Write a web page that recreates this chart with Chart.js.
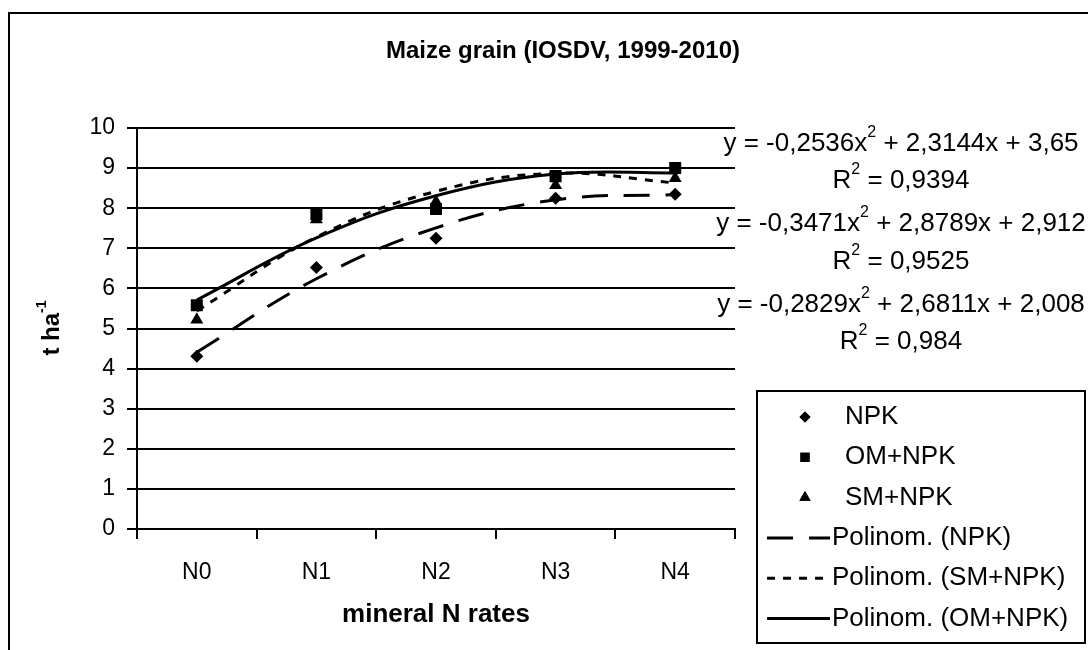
<!DOCTYPE html>
<html><head><meta charset="utf-8">
<script src="https://cdn.jsdelivr.net/npm/chart.js@4/dist/chart.umd.min.js"></script>
<style>html,body{margin:0;padding:0;background:#fff}#wrap{width:1088px;height:650px;position:relative}</style>
</head><body><div id="wrap"><canvas id="c" width="1088" height="650"></canvas></div>
<script>
// ---- data ----
const categories = ['N0', 'N1', 'N2', 'N3', 'N4'];
const npk    = [4.31, 6.52, 7.25, 8.25, 8.35];
const omNpk  = [5.58, 7.85, 7.98, 8.80, 9.00];
const smNpk  = [5.22, 7.72, 8.16, 8.57, 8.75];
// trend-line heights read at each category
const trendNpk = [4.41, 6.24, 7.51, 8.21, 8.34];
const trendSm  = [5.44, 7.28, 8.42, 8.87, 8.63];
const trendOm  = [5.71, 7.26, 8.31, 8.85, 8.88];
const yMin = 0, yMax = 10, yStep = 1;
const chartTitle = 'Maize grain (IOSDV, 1999-2010)';
const xTitle = 'mineral N rates';
const yTitle = ['t ha', '-1'];
const eqLines = [
  ['y = -0,2536x', '2', ' + 2,3144x + 3,65'],
  ['R', '2', ' = 0,9394'],
  ['y = -0,3471x', '2', ' + 2,8789x + 2,912'],
  ['R', '2', ' = 0,9525'],
  ['y = -0,2829x', '2', ' + 2,6811x + 2,008'],
  ['R', '2', ' = 0,984']
];

const FONT = "'Liberation Sans', Arial, sans-serif";

function drawRich(ctx, parts, cx, cy, size, bold, align) {
  const w = bold ? 'bold ' : '';
  const supSize = Math.round(size * 0.6);
  let total = 0;
  const widths = parts.map((p, i) => {
    ctx.font = w + (i % 2 === 1 ? supSize : size) + 'px ' + FONT;
    return ctx.measureText(p).width;
  });
  widths.forEach(v => total += v);
  let x = align === 'left' ? cx : cx - total / 2;
  ctx.textBaseline = 'middle';
  ctx.textAlign = 'left';
  parts.forEach((p, i) => {
    const sup = i % 2 === 1;
    ctx.font = w + (sup ? supSize : size) + 'px ' + FONT;
    ctx.fillText(p, x, sup ? cy - size * 0.42 : cy);
    x += widths[i];
  });
}

const decor = {
  id: 'decor',
  afterDraw(chart) {
    const ctx = chart.ctx;
    ctx.save();
    ctx.fillStyle = '#000';
    ctx.strokeStyle = '#000';
    // outer frame
    ctx.lineWidth = 2;
    ctx.strokeRect(9, 13, 1200, 800);
    // title
    ctx.font = 'bold 24px ' + FONT;
    ctx.textAlign = 'center';
    ctx.textBaseline = 'middle';
    ctx.fillText(chartTitle, 563, 51);
    // x title
    ctx.font = 'bold 26px ' + FONT;
    ctx.fillText(xTitle, 436, 615);
    // y title rotated
    ctx.save();
    ctx.translate(52, 328);
    ctx.rotate(-Math.PI / 2);
    drawRich(ctx, [yTitle[0], yTitle[1]], 0, 0, 24, true);
    ctx.restore();
    // equations
    const eqY = [144, 181, 224, 262, 305, 342];
    eqLines.forEach((parts, i) => drawRich(ctx, parts, 901, eqY[i], 26, false));
    // legend
    ctx.lineWidth = 2;
    ctx.strokeRect(757, 391, 328, 252);
    const metas = chart.data.datasets;
    const legendMarkerR = [5.5, 6.5, 6.5];
    metas.forEach((ds, i) => {
      const y = 417 + i * 40.3;
      ctx.fillStyle = '#000';
      ctx.strokeStyle = '#000';
      if (i < 3) {
        Chart.helpers.drawPoint(ctx, {pointStyle: ds.pointStyle, radius: legendMarkerR[i], borderWidth: 0, rotation: 0}, 805, y);
        ctx.fill();
        ctx.font = '26px ' + FONT;
        ctx.textAlign = 'left';
        ctx.textBaseline = 'middle';
        ctx.fillText(ds.label, 845, y);
      } else {
        ctx.beginPath();
        ctx.lineWidth = 3;
        ctx.setLineDash(ds.borderDash || []);
        ctx.moveTo(767, y);
        ctx.lineTo(830, y);
        ctx.stroke();
        ctx.setLineDash([]);
        ctx.font = '26px ' + FONT;
        ctx.textAlign = 'left';
        ctx.textBaseline = 'middle';
        ctx.fillText(ds.label, 832, y);
      }
    });
    ctx.restore();
  }
};

const pointDs = (label, data, style, r) => ({
  label, data, showLine: false, pointStyle: style, pointRadius: r,
  pointBackgroundColor: '#000', pointBorderColor: '#000', pointBorderWidth: 0,
  backgroundColor: '#000', borderColor: '#000', order: 0
});
const trendDs = (label, data, dash) => ({
  label, data, borderColor: '#000', borderWidth: 3, borderDash: dash,
  pointRadius: 0, fill: false, tension: 0.4, order: 1
});

new Chart(document.getElementById('c'), {
  type: 'line',
  data: {
    labels: categories,
    datasets: [
      pointDs('NPK', npk, 'rectRot', 6.5),
      pointDs('OM+NPK', omNpk, 'rect', 8.5),
      pointDs('SM+NPK', smNpk, 'triangle', 7.5),
      trendDs('Polinom. (NPK)', trendNpk, [26, 16]),
      trendDs('Polinom. (SM+NPK)', trendSm, [8, 8]),
      trendDs('Polinom. (OM+NPK)', trendOm, [])
    ]
  },
  options: {
    responsive: false,
    animation: false,
    devicePixelRatio: 1,
    layout: {padding: {left: 0, top: 128, right: 353, bottom: 0}},
    plugins: {legend: {display: false}, title: {display: false}, tooltip: {enabled: false}},
    scales: {
      x: {
        type: 'category', offset: true,
        grid: {drawOnChartArea: false, drawTicks: true, tickLength: 10, offset: true, color: '#000', lineWidth: 2},
        border: {color: '#000', width: 2},
        ticks: {color: '#000', font: {family: FONT, size: 23}, padding: 20, maxRotation: 0},
        afterFit(s) { s.height = 121; }
      },
      y: {
        min: yMin, max: yMax,
        grid: {color: '#000', lineWidth: 2, tickLength: 10},
        border: {color: '#000', width: 2},
        ticks: {stepSize: yStep, color: '#000', font: {family: FONT, size: 23}, padding: 12},
        afterFit(s) { s.width = 137; }
      }
    }
  },
  plugins: [decor]
});
</script>
</body></html>
